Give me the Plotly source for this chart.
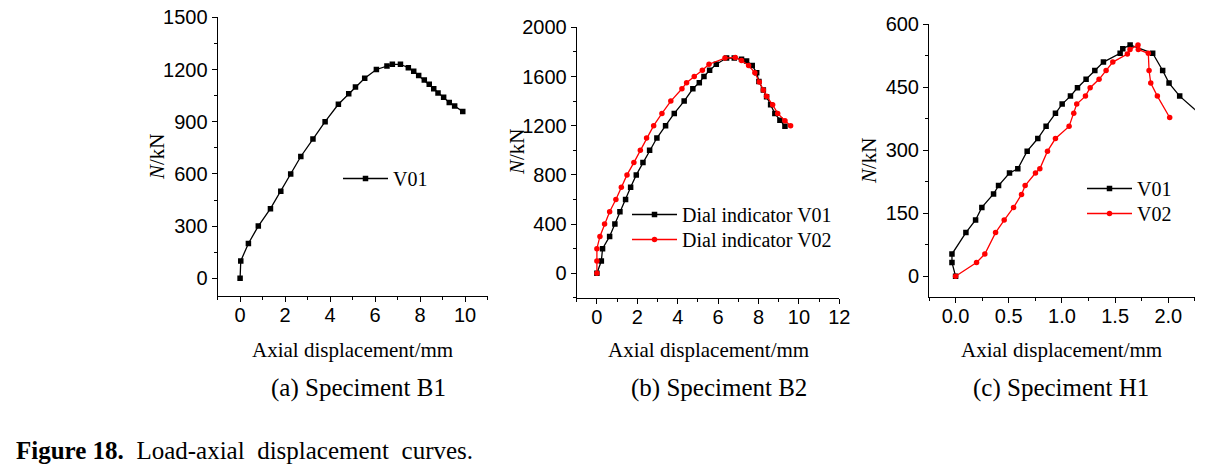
import plotly.graph_objects as go

W, H = 1213, 470

# ---------------- data ----------------
# (a) Specimen B1
a_x = [0, 0.03, 0.37, 0.81, 1.35, 1.81, 2.25, 2.70, 3.24, 3.78, 4.37, 4.83, 5.13, 5.54, 6.06,
       6.53, 6.77, 7.13, 7.48, 7.72, 7.94, 8.19, 8.41, 8.61, 8.80, 9.05, 9.30, 9.54, 9.90]
a_y = [0, 100, 200, 300, 400, 500, 600, 700, 800, 900, 1000, 1060, 1100, 1150, 1200,
       1220, 1230, 1230, 1210, 1190, 1165, 1140, 1115, 1090, 1065, 1040, 1010, 990, 958]

# (b) Specimen B2
b1_x = [0, 0.22, 0.28, 0.63, 0.89, 1.14, 1.42, 1.67, 1.95, 2.28, 2.61, 2.97, 3.40, 3.83, 4.32,
        4.75, 5.07, 5.30, 5.58, 5.91, 6.42, 6.80, 7.16, 7.41, 7.69, 7.91, 8.02, 8.24, 8.40,
        8.60, 8.81, 9.06, 9.31]
b1_y = [0, 100, 200, 300, 400, 500, 600, 700, 800, 900, 1000, 1100, 1200, 1300, 1400,
        1500, 1550, 1600, 1650, 1700, 1750, 1750, 1740, 1725, 1690, 1630, 1560, 1490, 1435,
        1370, 1300, 1245, 1195]
b2_x = [0, 0, 0, 0.15, 0.38, 0.63, 0.94, 1.21, 1.49, 1.83, 2.15, 2.46, 2.81, 3.22, 3.66,
        4.21, 4.44, 4.82, 5.22, 5.55, 6.34, 6.85, 7.16, 7.51, 7.82, 8.04, 8.24, 8.40, 8.70,
        8.95, 9.31, 9.59]
b2_y = [0, 100, 200, 300, 400, 500, 600, 700, 800, 900, 1000, 1100, 1200, 1300, 1400,
        1500, 1550, 1600, 1650, 1700, 1750, 1755, 1730, 1690, 1630, 1555, 1490, 1440, 1370,
        1300, 1240, 1200]

# (c) Specimen H1
c1_x = [0, -0.034, -0.034, 0.097, 0.188, 0.247, 0.357, 0.404, 0.507, 0.585, 0.673, 0.773, 0.851,
        0.939, 1.002, 1.08, 1.146, 1.227, 1.309, 1.39, 1.547, 1.572, 1.641, 1.853, 1.947,
        2.007, 2.107, 2.35]
c1_y = [0, 33, 53, 104, 134, 164, 196, 216, 246, 256, 298, 328, 357, 388, 410, 429, 449,
        469, 490, 510, 531, 542, 551, 531, 490, 460, 429, 375]
c2_x = [0, 0.197, 0.275, 0.376, 0.457, 0.545, 0.62, 0.654, 0.751, 0.792, 0.864, 0.939, 1.067,
        1.111, 1.139, 1.221, 1.265, 1.349, 1.415, 1.478, 1.615, 1.64, 1.715, 1.718, 1.812,
        1.819, 1.835, 1.897, 2.013]
c2_y = [0, 33, 53, 104, 134, 164, 195, 216, 246, 256, 298, 328, 357, 388, 410, 429, 449,
        469, 490, 510, 529, 540, 551, 540, 531, 490, 460, 429, 378]

x_title = "Axial displacement/mm"
y_title = "<i>N</i>/kN"
captions = ["(a) Speciment B1", "(b) Speciment B2", "(c) Speciment H1"]
fig_caption = "<b>Figure 18.</b>&nbsp; Load-axial&nbsp; displacement&nbsp; curves."

BLACK = "#000000"
RED = "#ff0000"
SERIF = "Liberation Serif, Times New Roman, serif"
SANS = "Liberation Sans, Arial, sans-serif"

fig = go.Figure()

def add(x, y, name, color, symbol, xa, ya, leg):
    fig.add_trace(go.Scatter(
        x=x, y=y, name=name, mode="lines+markers", xaxis=xa, yaxis=ya, legend=leg,
        line=dict(color=color, width=1.3),
        marker=dict(color=color, symbol=symbol, size=5.5, line=dict(width=0)),
        showlegend=True,
    ))

add(a_x, a_y, "V01", BLACK, "square", "x", "y", "legend")
add(b1_x, b1_y, "Dial indicator V01", BLACK, "square", "x2", "y2", "legend2")
add(b2_x, b2_y, "Dial indicator V02", RED, "circle", "x2", "y2", "legend4")
add(c1_x, c1_y, "V01", BLACK, "square", "x3", "y3", "legend3")
add(c2_x, c2_y, "V02", RED, "circle", "x3", "y3", "legend5")

def px_x(p):
    return p / W

def px_y(p):
    return 1 - p / H

def axis(domain, rng, dtick, minor_dtick, anchor, standoff):
    return dict(
        domain=domain, range=rng, dtick=dtick, tick0=0, anchor=anchor,
        showline=True, linecolor=BLACK, linewidth=1, mirror=False,
        ticks="outside", ticklen=5, tickwidth=1, tickcolor=BLACK,
        ticklabelstandoff=standoff,
        showgrid=False, zeroline=False, automargin=False,
        tickfont=dict(family=SANS, size=20, color=BLACK),
        minor=dict(ticks="outside", ticklen=3, tickwidth=1, tickcolor=BLACK,
                   dtick=minor_dtick, tick0=0, showgrid=False),
        fixedrange=True,
    )

# panel pixel geometry
pa_x = [217.6, 487.5]; pa_y = [17.3, 295.7]
pb_x = [576.7, 839.3]; pb_y = [27.3, 297.9]
pc_x = [929.0, 1194.9]; pc_y = [24.3, 297.3]

fig.update_layout(
    width=W, height=H, margin=dict(l=0, r=0, t=0, b=0, autoexpand=False),
    paper_bgcolor="white", plot_bgcolor="white", showlegend=True,
    xaxis=axis([px_x(pa_x[0]), px_x(pa_x[1])], [-1, 11], 2, 1, "y", -4),
    yaxis=axis([px_y(pa_y[1]), px_y(pa_y[0])], [-100, 1500], 300, 150, "x", 0),
    xaxis2=axis([px_x(pb_x[0]), px_x(pb_x[1])], [-1, 12], 2, 1, "y2", -4),
    yaxis2=axis([px_y(pb_y[1]), px_y(pb_y[0])], [-200, 2000], 400, 200, "x2", 0),
    xaxis3=axis([px_x(pc_x[0]), px_x(pc_x[1])], [-0.25, 2.25], 0.5, 0.25, "y3", -4),
    yaxis3=axis([px_y(pc_y[1]), px_y(pc_y[0])], [-50, 600], 150, 75, "x3", 0),
)
fig.layout.xaxis3.tickformat = ".1f"

leg_common = dict(bgcolor="rgba(0,0,0,0)", borderwidth=0,
                  font=dict(family=SERIF, size=20, color=BLACK),
                  xanchor="left", yanchor="top", tracegroupgap=0,
                  itemwidth=45, itemclick=False, itemdoubleclick=False)
# legend top = item centre - 20 px ; legend left = text start - 55 px
fig.update_layout(
    legend=dict(x=px_x(338), y=px_y(159), **leg_common),
    legend2=dict(x=px_x(627), y=px_y(195), **leg_common),
    legend4=dict(x=px_x(627), y=px_y(220), **leg_common),
    legend3=dict(x=px_x(1082), y=px_y(169), **leg_common),
    legend5=dict(x=px_x(1082), y=px_y(194), **leg_common),
)

ann = []
for xs in (pa_x, pb_x, pc_x):
    ann.append(dict(text=x_title, x=px_x((xs[0] + xs[1]) / 2), y=px_y(350),
                    xref="paper", yref="paper", showarrow=False,
                    xanchor="center", yanchor="middle",
                    font=dict(family=SERIF, size=21, color=BLACK)))
for cx, cap in zip([359, 719, 1061], captions):
    ann.append(dict(text=cap, x=px_x(cx), y=px_y(388), xref="paper", yref="paper",
                    showarrow=False, xanchor="center", yanchor="middle",
                    font=dict(family=SERIF, size=25, color=BLACK)))
for yx, yy in [(157, 157), (517, 152), (869, 161)]:
    ann.append(dict(text=y_title, x=px_x(yx), y=px_y(yy), xref="paper", yref="paper",
                    showarrow=False, xanchor="center", yanchor="middle", textangle=-90,
                    font=dict(family=SERIF, size=21, color=BLACK)))
ann.append(dict(text=fig_caption, x=px_x(14), y=px_y(450), xref="paper", yref="paper",
                showarrow=False, xanchor="left", yanchor="middle",
                font=dict(family=SERIF, size=25, color=BLACK)))
fig.update_layout(annotations=ann)

fig.write_html("out.html", config=dict(displayModeBar=False),
               post_script="document.body.style.margin='0px';document.body.style.overflow='hidden';")
